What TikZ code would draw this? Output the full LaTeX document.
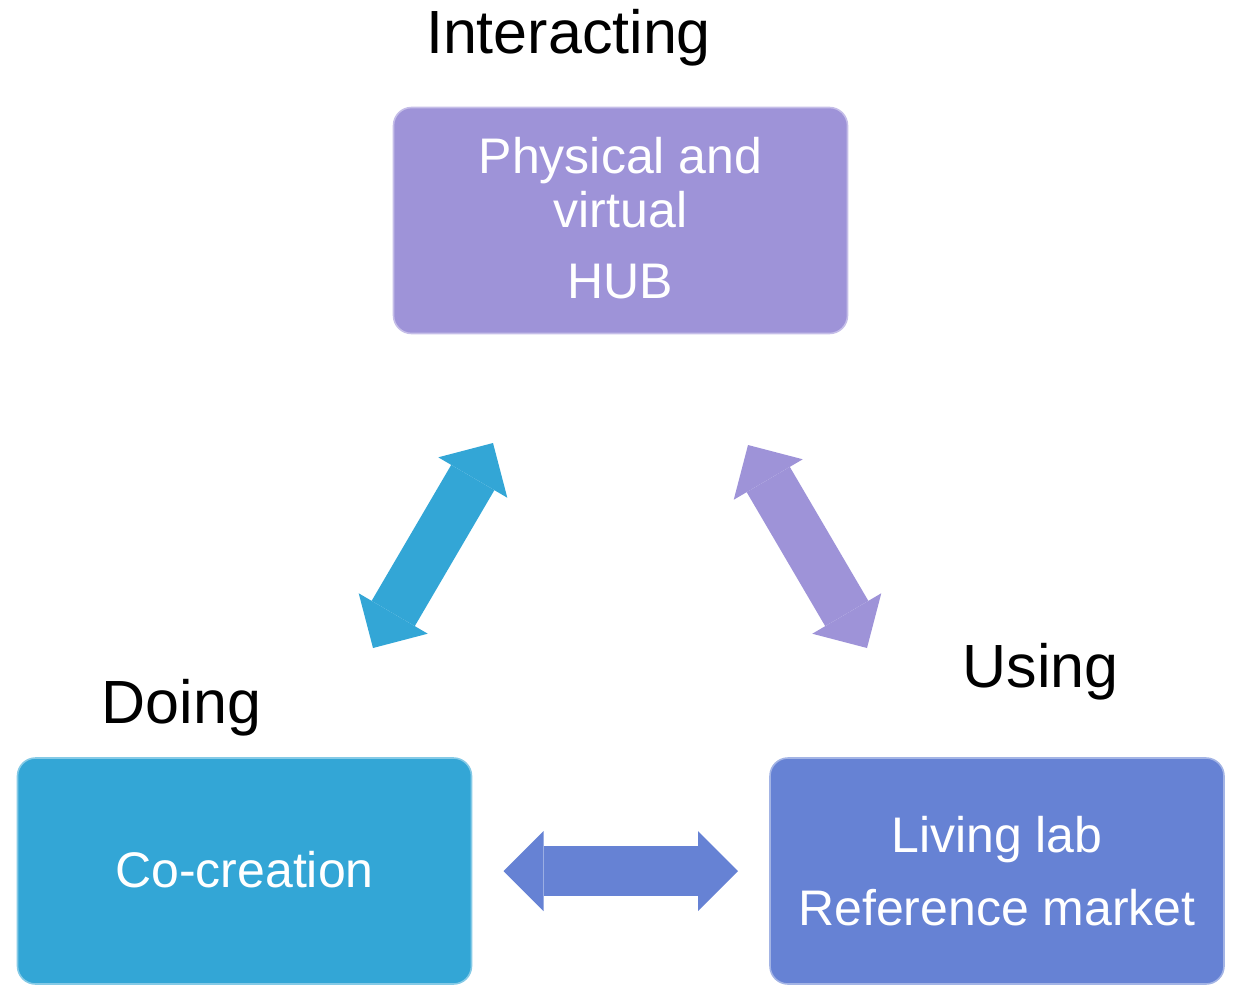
\documentclass[tikz,border=0pt]{standalone}
\usepackage{fontspec}
\setmainfont{Liberation Sans}
\usetikzlibrary{arrows.meta}

\definecolor{hubcol}{RGB}{158,147,216}
\definecolor{docol}{RGB}{51,166,214}
\definecolor{usecol}{RGB}{102,130,212}

\tikzstyle{box} = [rectangle, rounded corners=9pt, inner sep=0pt, outer sep=0pt, minimum width=227pt, minimum height=113pt, line width=0.8pt]
\tikzstyle{head} = [inner sep=0pt, anchor=base, font=\fontsize{30.5}{36}\selectfont]
\tikzstyle{inbox} = [inner sep=0pt, anchor=base, text=white, font=\fontsize{25}{30}\selectfont]
\tikzstyle{dbl} = [line width=25pt, {Triangle[length=20pt, width=40pt, line width=0pt]}-{Triangle[length=20pt, width=40pt, line width=0pt]}]

\begin{document}
\begin{tikzpicture}[x=0.5pt, y=-0.5pt]
\useasboundingbox (0,0) rectangle (1235,985);

\node[box, fill=hubcol, draw=hubcol!60!white] (hub) at (620.5,220.5) {};
\node[box, fill=docol, draw=docol!60!white] (do) at (244.5,871) {};
\node[box, fill=usecol, draw=usecol!60!white] (use) at (997,871) {};

\node[head] (interacting) at (568.5,53) {Interacting};
\node[head] (doing) at (181.5,723) {Doing};
\node[head] (using) at (1040.5,687) {Using};

\node[inbox] (hub1) at (620.5,173) {Physical and};
\node[inbox] (hub2) at (620.5,227) {virtual};
\node[inbox] (hub3) at (620.5,298) {HUB};
\node[inbox] (do1) at (244.5,887) {Co-creation};
\node[inbox] (use1) at (997,852) {Living lab};
\node[inbox] (use2) at (997,925) {Reference market};

\coordinate (doTip) at (373,648);
\coordinate (hubTipL) at (493,443);
\coordinate (hubTipR) at (748,445);
\coordinate (useTip) at (867,648);

\draw[dbl, docol] (doTip) -- (hubTipL);
\draw[dbl, hubcol] (hubTipR) -- (useTip);
\draw[dbl, usecol, shorten <=16pt, shorten >=16pt] (do.east) -- (use.west);
\end{tikzpicture}
\end{document}
